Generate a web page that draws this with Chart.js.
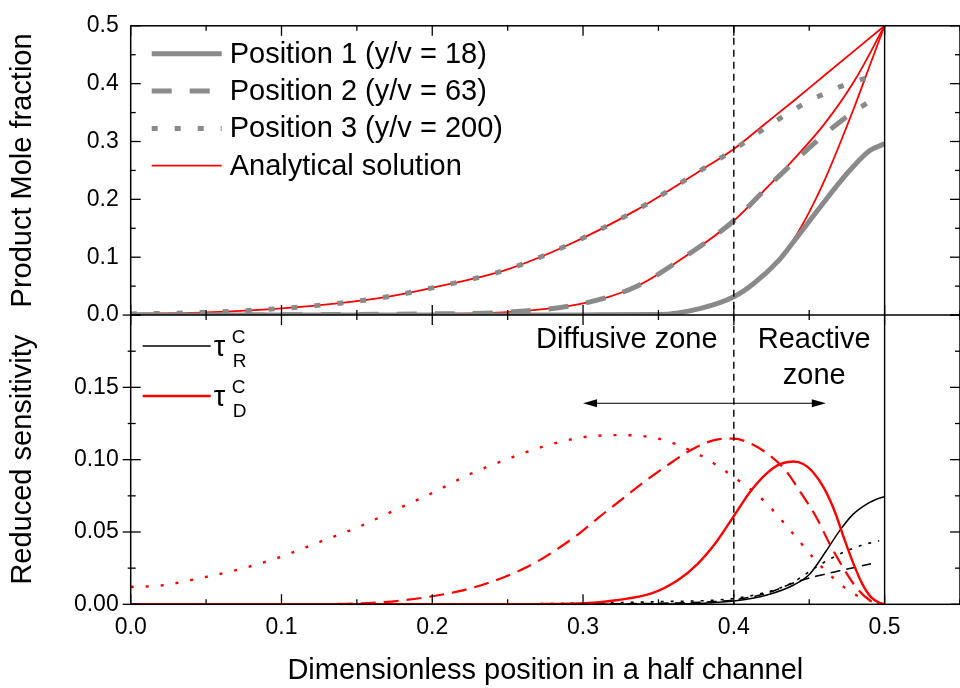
<!DOCTYPE html>
<html lang="en">
<head>
<meta charset="UTF-8" />
<title>Mole fraction and reduced sensitivity across a half channel</title>
<script src="https://cdn.jsdelivr.net/npm/chart.js"></script>
<style>
  html, body { margin: 0; padding: 0; background: #fff; }
  #wrap { width: 960px; height: 688px; overflow: hidden; }
  canvas { display: block; }
</style>
</head>
<body>
<div id="wrap"><canvas id="chart" width="970" height="688"></canvas></div>
<script>
// ---------- top panel: product mole fraction ----------
const pos1X = [0, 0.2, 0.3, 0.35, 0.378, 0.4, 0.413, 0.43, 0.44, 0.45, 0.46, 0.47, 0.48, 0.49, 0.5];
const pos1Y = [0, 0, 0.0003, 0.0008, 0.0115, 0.0315, 0.054, 0.095, 0.128, 0.162, 0.196, 0.229, 0.259, 0.284, 0.296];
const pos2X = [0, 0.1, 0.15, 0.2, 0.25, 0.3, 0.335, 0.367, 0.4, 0.42, 0.44, 0.46, 0.475, 0.488];
const pos2Y = [0, 0.0003, 0.001, 0.002, 0.005, 0.02, 0.049, 0.1, 0.163, 0.215, 0.265, 0.312, 0.343, 0.366];
const pos3X = [0, 0.05, 0.1, 0.14, 0.17, 0.2, 0.25, 0.29, 0.335, 0.378, 0.4, 0.424, 0.45, 0.479, 0.497];
const pos3Y = [0.002, 0.0046, 0.0115, 0.021, 0.0315, 0.047, 0.079, 0.121, 0.181, 0.25, 0.286, 0.329, 0.37, 0.403, 0.415];

const ana1X = [0, 0.2, 0.3, 0.35, 0.378, 0.4, 0.413, 0.43, 0.44, 0.45, 0.46, 0.47, 0.48, 0.49, 0.5];
const ana1Y = [0, 0, 0.0003, 0.0008, 0.0115, 0.0315, 0.054, 0.096, 0.132, 0.178, 0.232, 0.294, 0.36, 0.43, 0.5];
const ana2X = [0, 0.1, 0.15, 0.2, 0.25, 0.3, 0.335, 0.367, 0.4, 0.42, 0.44, 0.46, 0.48, 0.5];
const ana2Y = [0, 0.0003, 0.001, 0.002, 0.005, 0.02, 0.049, 0.1, 0.163, 0.215, 0.27, 0.33, 0.405, 0.5];
const ana3X = [0, 0.05, 0.1, 0.14, 0.17, 0.2, 0.25, 0.29, 0.335, 0.378, 0.4, 0.42, 0.44, 0.46, 0.48, 0.5];
const ana3Y = [0.002, 0.0046, 0.0115, 0.021, 0.0315, 0.047, 0.079, 0.121, 0.181, 0.25, 0.287, 0.329, 0.371, 0.414, 0.457, 0.5];

// ---------- bottom panel: reduced sensitivity ----------
const tauD1X = [0, 0.25, 0.2687, 0.301, 0.3234, 0.3454, 0.3628, 0.376, 0.389, 0.4, 0.411, 0.422, 0.4307, 0.4395, 0.446, 0.452, 0.46, 0.467, 0.473, 0.479, 0.485, 0.491, 0.497, 0.5];
const tauD1Y = [0, 0, 0.0001, 0.0007, 0.003, 0.0075, 0.0166, 0.028, 0.044, 0.061, 0.078, 0.0907, 0.0969, 0.0987, 0.097, 0.092, 0.08, 0.064, 0.046, 0.029, 0.0145, 0.005, 0.0008, 0];
const tauD2X = [0, 0.1, 0.13, 0.15, 0.166, 0.183, 0.202, 0.218, 0.236, 0.2534, 0.2687, 0.282, 0.297, 0.3103, 0.3257, 0.341, 0.3563, 0.3716, 0.387, 0.4, 0.411, 0.422, 0.434, 0.4439, 0.4548, 0.4636, 0.4723, 0.481, 0.49, 0.5];
const tauD2Y = [0, 0, 0.0002, 0.0005, 0.0014, 0.003, 0.0059, 0.0091, 0.0144, 0.0212, 0.029, 0.0376, 0.0486, 0.06, 0.0725, 0.085, 0.0964, 0.1067, 0.1135, 0.1146, 0.1112, 0.1044, 0.093, 0.078, 0.06, 0.0417, 0.0257, 0.012, 0.003, 0];
const tauD3X = [0, 0.02, 0.05, 0.075, 0.1, 0.125, 0.15, 0.175, 0.2, 0.225, 0.25, 0.275, 0.3, 0.325, 0.35, 0.375, 0.4, 0.42, 0.44, 0.455, 0.47, 0.48, 0.49, 0.5];
const tauD3Y = [0.012, 0.013, 0.019, 0.025, 0.033, 0.043, 0.053, 0.065, 0.077, 0.09, 0.1005, 0.1095, 0.1155, 0.117, 0.1145, 0.1045, 0.088, 0.0715, 0.048, 0.0295, 0.0145, 0.007, 0.0025, 0];

const tauR1X = [0, 0.3, 0.35, 0.38, 0.4, 0.422, 0.44, 0.4504, 0.4613, 0.4701, 0.479, 0.4876, 0.4942, 0.5];
const tauR1Y = [0, 0, 0.0002, 0.0008, 0.0022, 0.0064, 0.0135, 0.021, 0.037, 0.0508, 0.0622, 0.069, 0.0725, 0.0745];
const tauR2X = [0, 0.25, 0.3, 0.35, 0.385, 0.4, 0.422, 0.4415, 0.455, 0.466, 0.48, 0.491];
const tauR2Y = [0, 0, 0.0002, 0.0007, 0.0018, 0.003, 0.0077, 0.0155, 0.0195, 0.0222, 0.0255, 0.028];
const tauR3X = [0, 0.15, 0.25, 0.3, 0.35, 0.4, 0.42, 0.435, 0.445, 0.455, 0.465, 0.475, 0.4854, 0.4964];
const tauR3Y = [0, 0, 0.0003, 0.0008, 0.0018, 0.004, 0.008, 0.013, 0.019, 0.026, 0.032, 0.037, 0.041, 0.044];

// axes and annotations
const xRange = [0, 0.55];
const topRange = [0, 0.5];
const bottomRange = [0, 0.2];
const zoneLine = 0.4;
const wallLine = 0.5;
const arrowFrom = 0.3, arrowTo = 0.461, arrowY = 0.139;

const FONT = "'Liberation Sans', Arial, sans-serif";
const GRAY = '#8a8a8a';
const RED = '#ff0000';

const pts = (xs, ys) => xs.map((x, i) => ({ x: x, y: ys[i] }));
const isMultiple = (v, step) => Math.abs(v / step - Math.round(v / step)) < 1e-6;

function series(label, xs, ys, axis, color, width, dash) {
  return {
    label: label,
    data: pts(xs, ys),
    yAxisID: axis,
    borderColor: color,
    borderWidth: width,
    borderDash: dash,
    pointRadius: 0,
    fill: false,
    cubicInterpolationMode: 'monotone'
  };
}

const datasets = [
  series('Position 1 (y/v = 18)', pos1X, pos1Y, 'yTop', GRAY, 5, []),
  series('Position 2 (y/v = 63)', pos2X, pos2Y, 'yTop', GRAY, 5, [20, 18]),
  series('Position 3 (y/v = 200)', pos3X, pos3Y, 'yTop', GRAY, 5, [6, 17]),
  series('Analytical solution', ana1X, ana1Y, 'yTop', RED, 1.8, []),
  series('Analytical 2', ana2X, ana2Y, 'yTop', RED, 1.8, []),
  series('Analytical 3', ana3X, ana3Y, 'yTop', RED, 1.8, []),
  series('tauD 1', tauD1X, tauD1Y, 'yBot', RED, 2.4, []),
  series('tauD 2', tauD2X, tauD2Y, 'yBot', RED, 2.2, [15, 8]),
  series('tauD 3', tauD3X, tauD3Y, 'yBot', RED, 2.4, [3, 12]),
  series('tauR 1', tauR1X, tauR1Y, 'yBot', '#000', 1.5, []),
  series('tauR 2', tauR2X, tauR2Y, 'yBot', '#000', 1.5, [10, 6]),
  series('tauR 3', tauR3X, tauR3Y, 'yBot', '#000', 1.6, [3, 7])
];

function line(ctx, x0, y0, x1, y1) {
  ctx.beginPath();
  ctx.moveTo(x0, y0);
  ctx.lineTo(x1, y1);
  ctx.stroke();
}

const framePlugin = {
  id: 'frame',
  afterDatasetsDraw(chart) {
    const ctx = chart.ctx;
    const sx = chart.scales.x, st = chart.scales.yTop, sb = chart.scales.yBot;
    const L = sx.left, R = sx.right;
    const T = st.top, M = st.bottom, B = sb.bottom;
    ctx.save();
    ctx.strokeStyle = '#000';
    ctx.fillStyle = '#000';

    // zone boundary and wall
    ctx.lineWidth = 1.4;
    ctx.setLineDash([7, 5]);
    const zx = sx.getPixelForValue(zoneLine);
    line(ctx, zx, T, zx, B);
    ctx.setLineDash([]);
    const wx = sx.getPixelForValue(wallLine);
    line(ctx, wx, T, wx, B);

    // frame
    ctx.lineWidth = 1.5;
    ctx.strokeRect(L, T, R - L, B - T);
    line(ctx, L, M, R, M);

    // x ticks (inward)
    ctx.lineWidth = 1.3;
    sx.ticks.forEach(t => {
      const px = sx.getPixelForValue(t.value);
      const len = isMultiple(t.value, 0.1) ? 10 : 5;
      line(ctx, px, T, px, T + len);
      line(ctx, px, M - len, px, M + len);
      line(ctx, px, B, px, B - len);
    });
    // y ticks (inward, both sides)
    [[st, 0.1], [sb, 0.05]].forEach(([s, major]) => {
      s.ticks.forEach(t => {
        const py = s.getPixelForValue(t.value);
        const len = isMultiple(t.value, major) ? 10 : 5;
        line(ctx, L, py, L + len, py);
        line(ctx, R, py, R - len, py);
        if (s === sb) line(ctx, L - len + 2, py, L, py);
      });
    });

    // arrow
    const ay = sb.getPixelForValue(arrowY);
    const a0 = sx.getPixelForValue(arrowFrom), a1 = sx.getPixelForValue(arrowTo);
    ctx.lineWidth = 1.2;
    line(ctx, a0 + 6, ay, a1 - 6, ay);
    ctx.beginPath();
    ctx.moveTo(a0, ay); ctx.lineTo(a0 + 14, ay - 4); ctx.lineTo(a0 + 14, ay + 4); ctx.closePath();
    ctx.fill();
    ctx.beginPath();
    ctx.moveTo(a1, ay); ctx.lineTo(a1 - 14, ay - 4); ctx.lineTo(a1 - 14, ay + 4); ctx.closePath();
    ctx.fill();

    // zone labels
    ctx.font = '29px ' + FONT;
    ctx.textAlign = 'center';
    ctx.textBaseline = 'alphabetic';
    ctx.fillText('Diffusive zone', sx.getPixelForValue(0.329), sb.getPixelForValue(0.1774));
    ctx.fillText('Reactive', sx.getPixelForValue(0.4533), sb.getPixelForValue(0.1774));
    ctx.fillText('zone', sx.getPixelForValue(0.4533), sb.getPixelForValue(0.1523));

    // top legend
    const ds = chart.data.datasets;
    const topLegend = [ds[0], ds[1], ds[2], ds[3]];
    ctx.textAlign = 'left';
    ctx.textBaseline = 'middle';
    topLegend.forEach((d, i) => {
      const y = st.top + 28 + i * 37.3;
      ctx.strokeStyle = d.borderColor;
      ctx.lineWidth = d.borderWidth;
      ctx.setLineDash(d.borderDash);
      line(ctx, L + 21, y, L + 91, y);
      ctx.setLineDash([]);
      ctx.fillStyle = '#000';
      ctx.fillText(d.label, L + 99, y + 1);
    });

    // bottom legend: tau_R^C and tau_D^C
    const tauLegend = [[ds[9], 'R'], [ds[6], 'D']];
    tauLegend.forEach(([d, sub], i) => {
      const y = sb.top + 31 + i * 50;
      ctx.strokeStyle = d.borderColor;
      ctx.lineWidth = d.borderWidth;
      ctx.setLineDash([]);
      line(ctx, L + 12, y, L + 80, y);
      ctx.fillStyle = '#000';
      ctx.textBaseline = 'alphabetic';
      ctx.font = '29px ' + FONT;
      ctx.fillText('\u03c4', L + 83, y + 10);
      ctx.font = '19px ' + FONT;
      ctx.fillText('C', L + 101, y - 3);
      ctx.fillText(sub, L + 102, y + 21);
    });
    ctx.restore();
  }
};

Chart.defaults.font.family = FONT;
Chart.defaults.color = '#000';

new Chart(document.getElementById('chart'), {
  type: 'line',
  data: { datasets: datasets },
  options: {
    responsive: false,
    animation: false,
    devicePixelRatio: 1,
    layout: { padding: { top: 20, right: 1.6, left: 0, bottom: 0 } },
    plugins: { legend: { display: false }, tooltip: { enabled: false } },
    scales: {
      x: {
        type: 'linear',
        min: xRange[0],
        max: xRange[1],
        grid: { display: false, drawTicks: false },
        border: { display: false },
        ticks: {
          stepSize: 0.05,
          autoSkip: false,
          maxRotation: 0,
          padding: 10,
          font: { size: 23 },
          callback: v => isMultiple(v, 0.1) ? v.toFixed(1) : ''
        },
        title: { display: true, text: 'Dimensionless position in a half channel', font: { size: 29 }, padding: { top: 0, bottom: 0 } },
        afterFit: s => { s.height = 83.7; }
      },
      // left axes share one stack; the later one is placed on top
      yBot: {
        type: 'linear',
        position: 'left',
        stack: 'panels',
        stackWeight: 1,
        min: bottomRange[0],
        max: bottomRange[1],
        grid: { display: false, drawTicks: false },
        border: { display: false },
        ticks: {
          stepSize: 0.025,
          autoSkip: false,
          padding: 12,
          font: { size: 23 },
          callback: v => (isMultiple(v, 0.05) && v < 0.19) ? v.toFixed(2) : ''
        },
        title: { display: true, text: 'Reduced sensitivity', font: { size: 29 }, padding: { top: 6, bottom: 0 } },
        afterFit: s => { s.width = 130.7; }
      },
      yTop: {
        type: 'linear',
        position: 'left',
        stack: 'panels',
        stackWeight: 1,
        min: topRange[0],
        max: topRange[1],
        grid: { display: false, drawTicks: false },
        border: { display: false },
        ticks: {
          stepSize: 0.05,
          autoSkip: false,
          padding: 12,
          font: { size: 23 },
          callback: v => isMultiple(v, 0.1) ? v.toFixed(1) : ''
        },
        title: { display: true, text: 'Product Mole fraction', font: { size: 29 }, padding: { top: 6, bottom: 0 } },
        afterFit: s => { s.width = 130.7; }
      }
    }
  },
  plugins: [framePlugin]
});
</script>
</body>
</html>
